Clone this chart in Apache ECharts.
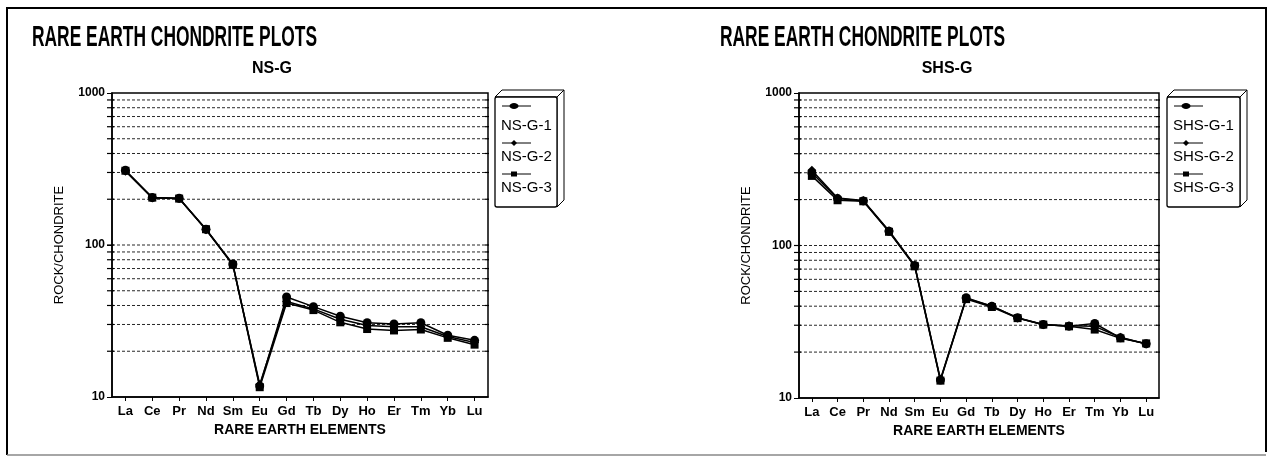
<!DOCTYPE html>
<html><head><meta charset="utf-8">
<script src="https://cdn.jsdelivr.net/npm/echarts@6/dist/echarts.min.js"></script>
<style>html,body{margin:0;padding:0;background:#fff}#c{width:1268px;height:463px}</style>
</head><body><div id="c"></div>
<script>
// ---- data ----
const categories = ['La','Ce','Pr','Nd','Sm','Eu','Gd','Tb','Dy','Ho','Er','Tm','Yb','Lu'];
const nsG1  = [310, 205, 203, 127, 75, 11.8, 45.5, 39.3, 34.0, 30.8, 30.2, 30.8, 25.5, 23.6];
const nsG2  = [306, 204, 202, 126, 74, 12.1, 42.5, 38.0, 32.5, 29.5, 29.0, 29.0, 25.0, 22.8];
const nsG3  = [308, 205, 202, 127, 74, 11.6, 41.5, 37.3, 31.0, 28.0, 27.4, 27.8, 24.5, 22.1];
const shsG1 = [300, 203, 196, 124, 74, 13.1, 45.5, 40.0, 33.6, 30.3, 29.6, 30.8, 24.8, 22.7];
const shsG2 = [312, 205, 197, 125, 74, 13.3, 45.0, 40.0, 33.5, 30.2, 29.8, 29.5, 25.0, 22.6];
const shsG3 = [286, 198, 195, 123, 73, 13.0, 44.5, 39.5, 33.4, 30.3, 29.5, 28.1, 24.6, 22.8];
const gridLineValues = [20,30,40,50,60,70,80,90,100,200,300,400,500,600,700,800,900];
const mainTitle = 'RARE EARTH CHONDRITE PLOTS';
const panelTitles = ['NS-G', 'SHS-G'];
const seriesNames = [['NS-G-1','NS-G-2','NS-G-3'], ['SHS-G-1','SHS-G-2','SHS-G-3']];
const xAxisTitle = 'RARE EARTH ELEMENTS';
const yAxisTitle = 'ROCK/CHONDRITE';

// ---- layout ----
const FONT = '"Liberation Sans", Arial, sans-serif';
const panelData = [[nsG1, nsG2, nsG3], [shsG1, shsG2, shsG3]];
const symbols = ['circle', 'diamond', 'rect'];
const symbolSizes = [9, 9, 8];
const panels = [
  {grid:{left:112, top:93, width:376, height:304}, titleX:32, titleW:285, subX:272, legX:495, legW:62},
  {grid:{left:799, top:93, width:360, height:305}, titleX:720, titleW:285, subX:947, legX:1167, legW:73}
];

function textW(str, font){
  const c = document.createElement('canvas').getContext('2d');
  c.font = font; return c.measureText(str).width;
}
const titleFont = 'bold 29px ' + FONT;
const tW = textW(mainTitle, titleFont);

const grids = [], xAxes = [], yAxes = [], series = [], graphics = [];

// outer frame
graphics.push({type:'polyline', shape:{points:[[7,455],[7,8],[1266,8],[1266,452]]}, style:{stroke:'#000', lineWidth:2, fill:null}, silent:true});
graphics.push({type:'line', shape:{x1:7,y1:455,x2:1266,y2:455}, style:{stroke:'#888', lineWidth:1.5}, silent:true});

panels.forEach((p, i) => {
  grids.push(Object.assign({show:true, borderColor:'#000', borderWidth:1.5, backgroundColor:'transparent'}, p.grid));
  xAxes.push({
    type:'category', gridIndex:i, data:categories, boundaryGap:true,
    axisLine:{show:true, lineStyle:{color:'#000', width:1.5}},
    axisTick:{show:true, alignWithLabel:true, length:4, lineStyle:{color:'#000'}},
    axisLabel:{color:'#000', fontFamily:FONT, fontSize:13, fontWeight:'bold', margin:8, interval:0},
    name:xAxisTitle, nameLocation:'middle', nameGap:25,
    nameTextStyle:{color:'#000', fontFamily:FONT, fontSize:14, fontWeight:'bold'}
  });
  yAxes.push({
    type:'log', logBase:10, gridIndex:i, min:10, max:1000,
    axisLine:{show:true, lineStyle:{color:'#000', width:1.5}},
    axisTick:{show:true, length:5, lineStyle:{color:'#000'}},
    axisLabel:{color:'#000', fontFamily:FONT, fontSize:12, fontWeight:'bold', margin:7, formatter: v => String(v)},
    splitLine:{show:false},
    name:yAxisTitle, nameLocation:'middle', nameGap:46,
    nameTextStyle:{color:'#000', fontFamily:FONT, fontSize:13}
  });
  // dotted grid lines + minor ticks
  series.push({
    type:'custom', xAxisIndex:i, yAxisIndex:i, silent:true, clip:false, z:1,
    data: gridLineValues.map(v => [0, v]), encode:{x:0, y:1},
    renderItem: (params, api) => {
      const y = api.coord([0, api.value(1)])[1];
      const cs = params.coordSys;
      return {type:'group', children:[
        {type:'line', shape:{x1:cs.x, y1:y, x2:cs.x+cs.width, y2:y}, style:{stroke:'#000', lineWidth:1, lineDash:[3,2], opacity:0.85}},
        {type:'line', shape:{x1:cs.x-5, y1:y, x2:cs.x+2, y2:y}, style:{stroke:'#000', lineWidth:1.2}},
        {type:'line', shape:{x1:cs.x+cs.width-3, y1:y, x2:cs.x+cs.width+1, y2:y}, style:{stroke:'#000', lineWidth:1.2}}
      ]};
    }
  });
  panelData[i].forEach((d, k) => {
    series.push({
      type:'line', name:seriesNames[i][k], xAxisIndex:i, yAxisIndex:i, data:d, z:3,
      symbol:symbols[k], symbolSize:symbolSizes[k], showSymbol:true,
      lineStyle:{color:'#000', width:1.5}, itemStyle:{color:'#000'}
    });
  });
  // titles
  graphics.push({type:'text', x:p.titleX, y:38, scaleX: p.titleW / tW, silent:true,
    style:{text:mainTitle, font:titleFont, fill:'#000', align:'left', verticalAlign:'middle', textAlign:'left', textVerticalAlign:'middle'}});
  graphics.push({type:'text', x:p.subX, y:69, silent:true,
    style:{text:panelTitles[i], font:'bold 16px ' + FONT, fill:'#000', align:'center', verticalAlign:'middle', textAlign:'center', textVerticalAlign:'middle'}});
  // legend box (3D)
  const x0 = p.legX, y0 = 97, w = p.legW, h = 110, dd = 7;
  graphics.push({type:'polygon', silent:true, shape:{points:[[x0,y0],[x0+dd,y0-dd],[x0+w+dd,y0-dd],[x0+w,y0]]}, style:{fill:'#fff', stroke:'#000', lineWidth:1}});
  graphics.push({type:'polygon', silent:true, shape:{points:[[x0+w,y0],[x0+w+dd,y0-dd],[x0+w+dd,y0+h-dd],[x0+w,y0+h]]}, style:{fill:'#fff', stroke:'#000', lineWidth:1}});
  graphics.push({type:'rect', silent:true, shape:{x:x0, y:y0, width:w, height:h, r:2}, style:{fill:'#fff', stroke:'#000', lineWidth:1.3}});
  const iconY = [106, 143, 174], textY = [126, 157, 188];
  seriesNames[i].forEach((nm, k) => {
    graphics.push({type:'line', silent:true, shape:{x1:x0+7, y1:iconY[k], x2:x0+36, y2:iconY[k]}, style:{stroke:'#000', lineWidth:1}});
    const mx = x0 + 19, my = iconY[k];
    if (k === 0) graphics.push({type:'ellipse', silent:true, shape:{cx:mx, cy:my, rx:4.5, ry:3}, style:{fill:'#000'}});
    if (k === 1) graphics.push({type:'polygon', silent:true, shape:{points:[[mx-3,my],[mx,my-3],[mx+3,my],[mx,my+3]]}, style:{fill:'#000'}});
    if (k === 2) graphics.push({type:'rect', silent:true, shape:{x:mx-3, y:my-2.5, width:6, height:5}, style:{fill:'#000'}});
    graphics.push({type:'text', x:x0+6, y:textY[k], silent:true,
      style:{text:nm, font:'15px ' + FONT, fill:'#000', align:'left', verticalAlign:'middle', textAlign:'left', textVerticalAlign:'middle'}});
  });
});

const chart = echarts.init(document.getElementById('c'), null, {renderer:'canvas'});
chart.setOption({
  animation:false,
  backgroundColor:'#fff',
  grid:grids, xAxis:xAxes, yAxis:yAxes, series:series, graphic:graphics
});
</script>
</body></html>
